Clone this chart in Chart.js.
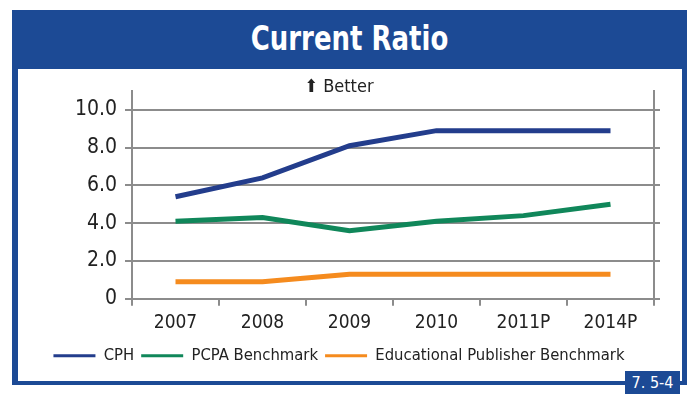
<!DOCTYPE html>
<html>
<head>
<meta charset="utf-8">
<script src="https://cdn.jsdelivr.net/npm/chart.js@4"></script>
<style>
    body { margin: 0; background: #fff; width: 687px; height: 394px; overflow: hidden; position: relative; }
    #frame { position: absolute; left: 12px; top: 10px; width: 675px; height: 375px; background: #1c4a95; }
    #title { position: absolute; left: 12px; top: 18px; width: 675px; height: 50px; line-height: 50px; text-align: center;
             color: #fff; font: bold 34px 'DejaVu Sans Condensed', sans-serif; transform: scaleX(0.85); }
    #inner { position: absolute; left: 18px; top: 69px; width: 664px; height: 312px; background: #fff; }
    #badge { position: absolute; left: 625px; top: 371px; width: 55px; height: 23px; background: #1c4a95; color: #fff;
             font: 16px 'DejaVu Sans Condensed', sans-serif; text-align: center; line-height: 24px; }
</style>
</head>
<body>
<div id="frame"></div>
<div id="title">Current Ratio</div>
<div id="inner"><canvas id="chart" width="664" height="312"></canvas></div>
<div id="badge">7. 5-4</div>
<script>
const years = ['2007', '2008', '2009', '2010', '2011P', '2014P'];
const cph = [5.4, 6.4, 8.1, 8.9, 8.9, 8.9];
const pcpa = [4.1, 4.3, 3.6, 4.1, 4.4, 5.0];
const eduPublisher = [0.9, 0.9, 1.3, 1.3, 1.3, 1.3];
const yTicks = [0, 2, 4, 6, 8, 10];

const FONT = "'DejaVu Sans Condensed', sans-serif";
const GRID = '#8c8c8c';

function line(label, data, color) {
    return { label: label, data: data, borderColor: color, backgroundColor: color,
             borderWidth: 5, pointRadius: 0, tension: 0, fill: false };
}

const ctx = document.getElementById('chart').getContext('2d');
new Chart(ctx, {
    type: 'line',
    data: {
        labels: years,
        datasets: [
            line('CPH', cph, '#233d8c'),
            line('PCPA Benchmark', pcpa, '#10875a'),
            line('Educational Publisher Benchmark', eduPublisher, '#f58b1e')
        ]
    },
    options: {
        responsive: false,
        animation: false,
        layout: { padding: { left: 0, right: 22, top: 0, bottom: 7 } },
        plugins: {
            title: {
                display: true, text: '\u2B06 Better', color: '#222',
                font: { family: FONT, size: 18, weight: 'normal', lineHeight: 1 },
                padding: { top: 9, bottom: -5 }
            },
            legend: {
                position: 'bottom',
                labels: {
                    usePointStyle: true, pointStyle: 'line', pointStyleWidth: 42,
                    color: '#222', font: { family: FONT, size: 16.5 }, padding: 7,
                    generateLabels(chart) {
                        return Chart.defaults.plugins.legend.labels.generateLabels(chart)
                            .map(l => Object.assign(l, { lineWidth: 3 }));
                    }
                }
            },
            tooltip: { enabled: false }
        },
        scales: {
            x: {
                offset: true,
                grid: { offset: true, drawOnChartArea: false, color: GRID, lineWidth: 2, tickLength: 7 },
                border: { color: GRID, width: 2 },
                ticks: { color: '#222', font: { family: FONT, size: 19 }, padding: 6, maxRotation: 0 }
            },
            y: {
                min: 0, max: 11,
                afterBuildTicks(axis) { axis.ticks = yTicks.map(v => ({ value: v })); },
                afterFit(axis) { axis.width = 114; },
                grid: { color: GRID, lineWidth: 2, tickLength: 7 },
                border: { color: GRID, width: 2 },
                ticks: { color: '#222', font: { family: FONT, size: 21 }, padding: 8, autoSkip: false,
                         callback: v => v === 0 ? '0' : v.toFixed(1) }
            },
            y2: {
                position: 'right', min: 0, max: 11,
                afterBuildTicks(axis) { axis.ticks = yTicks.map(v => ({ value: v })); },
                grid: { drawOnChartArea: false, color: GRID, lineWidth: 2, tickLength: 6 },
                border: { color: GRID, width: 2 },
                ticks: { display: false, autoSkip: false }
            }
        }
    }
});
</script>
</body>
</html>
